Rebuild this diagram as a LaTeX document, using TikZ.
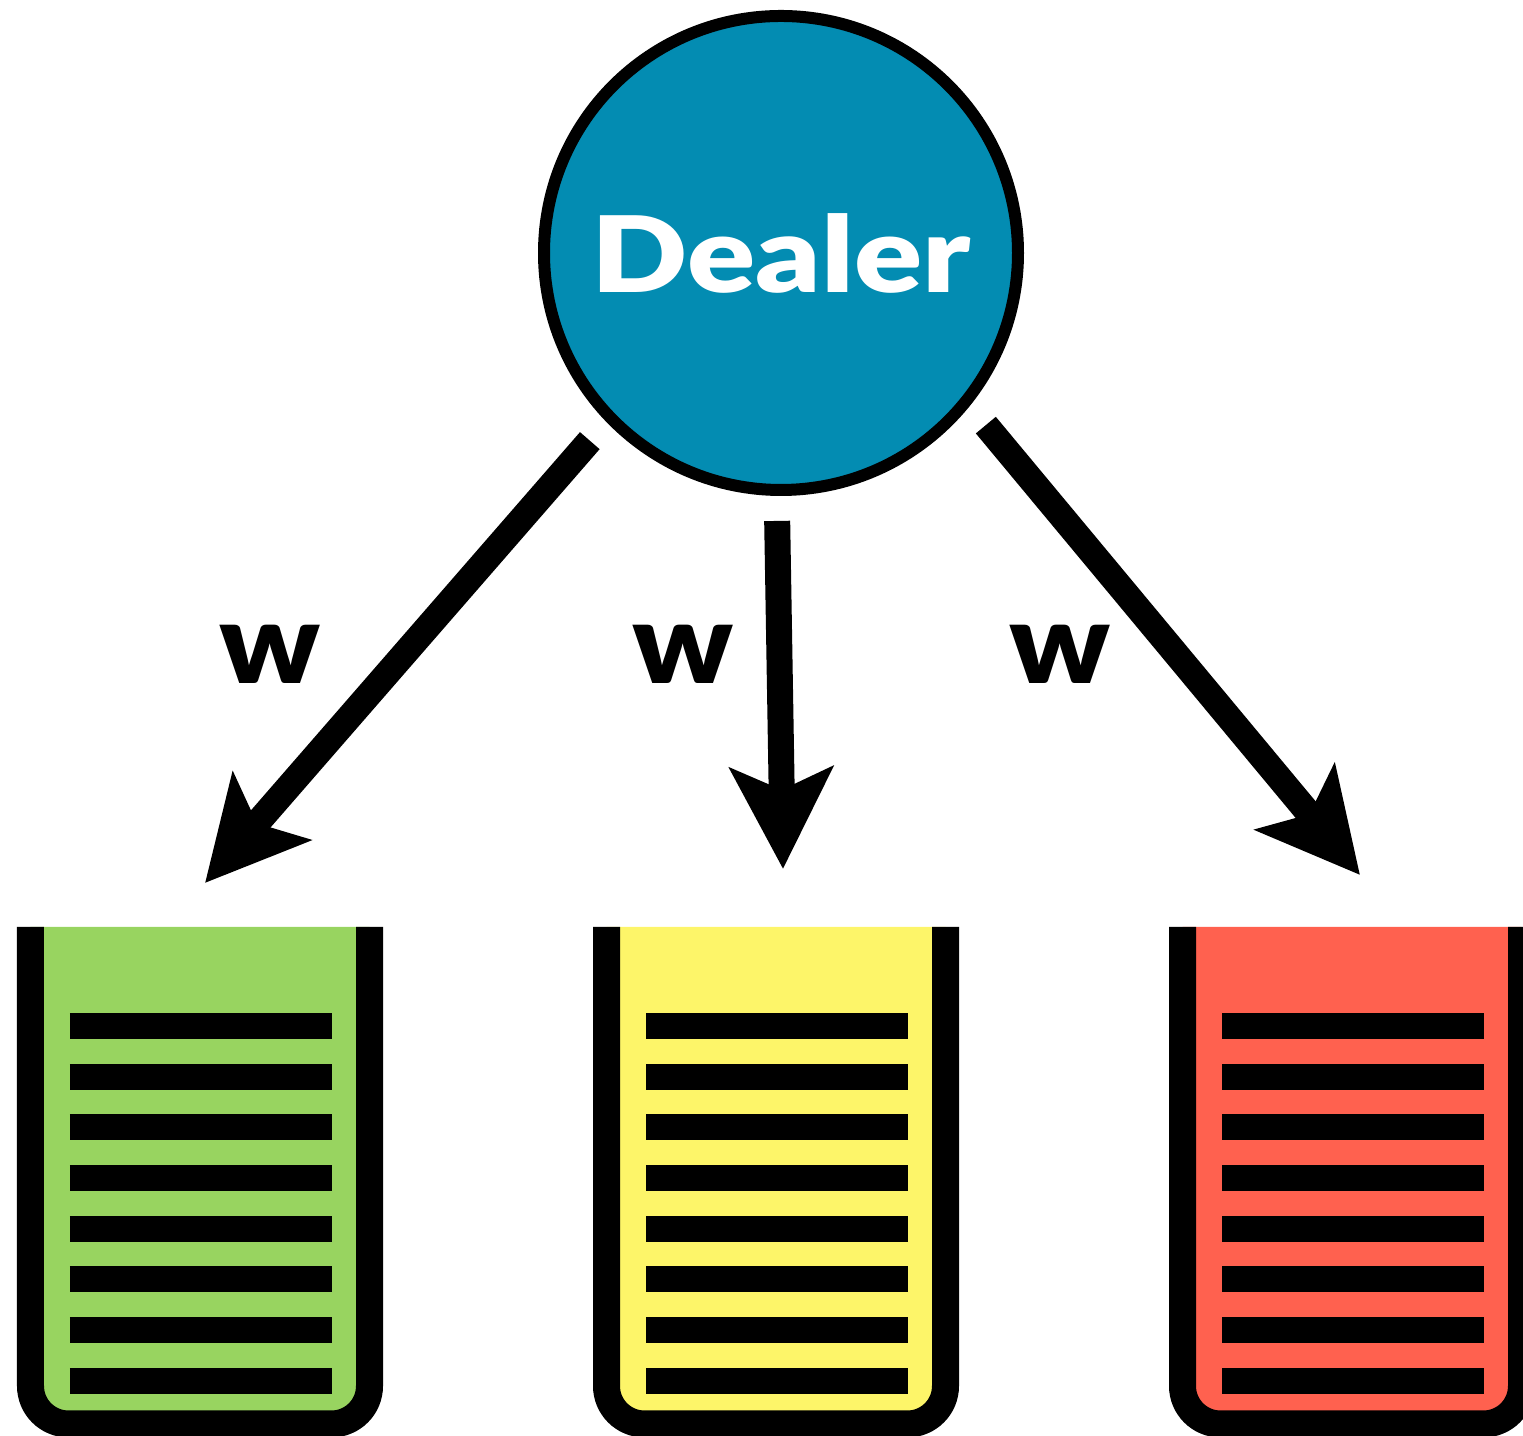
\documentclass[tikz,border=0pt]{standalone}
\usepackage{fontspec}
\setmainfont{Lato}[BoldFont={* Black}, FakeStretch=1.1]
\newfontfamily\dealerfont{Lato}[BoldFont={* Black}, FakeStretch=1.2]
\usetikzlibrary{arrows.meta,positioning}

\definecolor{dealerblue}{RGB}{3,140,178}
\definecolor{qgreen}{RGB}{152,212,96}
\definecolor{qyellow}{RGB}{253,245,105}
\definecolor{qred}{RGB}{255,97,79}

\tikzset{
  dealer/.style={circle, draw=black, line width=0.12cm, fill=dealerblue,
    minimum size=4.74cm, text=white, font=\dealerfont\bfseries\fontsize{30}{30}\selectfont},
  wlabel/.style={font=\bfseries\fontsize{32}{32}\selectfont},
  flow/.style={line width=0.26cm, shorten <=0.25cm,
    -{Stealth[length=1.01cm,width=1.02cm,inset=0.22cm]}},
  queue/.style={line width=0.27cm, rounded corners=0.38cm},
  job/.style={line width=0.26cm}
}

\begin{document}
\begin{tikzpicture}
\useasboundingbox (0,0) rectangle (15.23,-14.36);

\node[dealer] (dealer) at (7.81,-2.53) {Dealer};

% queues with their jobs
\foreach \cx/\col/\n in {2.00/qgreen/1, 7.76/qyellow/2, 13.52/qred/3} {
  \coordinate (q\n) at (\cx,-9.27);
  \draw[queue, fill=\col] ([xshift=-1.695cm]q\n) -- ++(0,-4.97) -- ++(3.39,0) -- ++(0,4.97);
  \foreach \i in {0,...,7}
    \draw[job] ([xshift=-1.30cm, yshift={-0.99cm-0.507cm*\i}]q\n) -- ++(2.62,0);
}

\coordinate (t1) at (2.05,-8.83);
\coordinate (t2) at (7.83,-8.69);
\coordinate (t3) at (13.60,-8.75);

\draw[flow] (dealer.224) -- (t1);
\draw[flow] (dealer.269.6) -- (t2);
\draw[flow] (dealer.321.3) -- (t3);

\node[wlabel] (w1) at (2.70,-6.54) {w};
\node[wlabel] (w2) at (6.83,-6.54) {w};
\node[wlabel] (w3) at (10.60,-6.54) {w};
\end{tikzpicture}
\end{document}
